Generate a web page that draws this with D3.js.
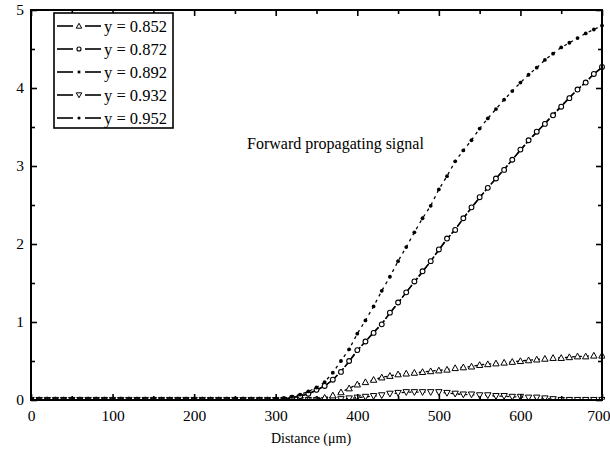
<!DOCTYPE html>
<html><head><meta charset="utf-8">
<script src="https://cdn.jsdelivr.net/npm/d3@7"></script>
<style>body{margin:0;background:#fff}svg{display:block}text{font-family:"Liberation Serif","Times New Roman",serif;fill:#000}</style>
</head><body><svg id="c" width="610" height="452"></svg>
<script>
const distance = d3.range(0, 701, 10);
const seriesNames = ["y = 0.852", "y = 0.872", "y = 0.892", "y = 0.932", "y = 0.952"];
const y0852 = [0,0,0,0,0,0,0,0,0,0, 0,0,0,0,0,0,0,0,0,0, 0,0,0,0,0,0,0,0,0,0, 0,0,0,0,0,0.01,0.03,0.06,0.10,0.15,
 0.20,0.23,0.26,0.29,0.31,0.33,0.34,0.35,0.36,0.37, 0.38,0.39,0.41,0.42,0.43,0.45,0.46,0.47,0.48,0.49,
 0.50,0.51,0.52,0.53,0.54,0.54,0.55,0.56,0.56,0.57, 0.57];
const y0872 = [0,0,0,0,0,0,0,0,0,0, 0,0,0,0,0,0,0,0,0,0, 0,0,0,0,0,0,0,0,0,0, 0,0.01,0.03,0.05,0.08,0.13,0.18,0.26,0.36,0.50,
 0.64,0.75,0.86,0.97,1.12,1.25,1.38,1.52,1.65,1.78, 1.93,2.07,2.18,2.33,2.47,2.60,2.72,2.84,2.95,3.08,
 3.21,3.33,3.44,3.54,3.65,3.76,3.87,3.98,4.07,4.18, 4.27];
const y0892 = [0,0,0,0,0,0,0,0,0,0, 0,0,0,0,0,0,0,0,0,0, 0,0,0,0,0,0,0,0,0,0, 0,0.01,0.03,0.05,0.08,0.12,0.18,0.26,0.37,0.49,
 0.63,0.75,0.87,0.98,1.11,1.24,1.38,1.51,1.64,1.78, 1.92,2.06,2.19,2.33,2.46,2.59,2.72,2.84,2.96,3.08,
 3.20,3.32,3.43,3.55,3.66,3.77,3.88,3.98,4.08,4.18, 4.26];
const y0932 = [0,0,0,0,0,0,0,0,0,0, 0,0,0,0,0,0,0,0,0,0, 0,0,0,0,0,0,0,0,0,0, 0,0,0,0,0,0,0,0,0.01,0.02,
 0.03,0.04,0.05,0.06,0.08,0.09,0.10,0.10,0.10,0.10, 0.10,0.09,0.08,0.07,0.07,0.06,0.06,0.05,0.05,0.04,
 0.04,0.03,0.03,0.02,0.01,0,0,0,0,0, 0];
const y0952 = [0,0,0,0,0,0,0,0,0,0, 0,0,0,0,0,0,0,0,0,0, 0,0,0,0,0,0,0,0,0,0, 0.01,0.02,0.04,0.07,0.11,0.16,0.23,0.35,0.50,0.65,
 0.85,1.02,1.20,1.40,1.58,1.78,1.96,2.15,2.33,2.49, 2.70,2.87,3.06,3.20,3.33,3.48,3.61,3.73,3.85,3.96,
 4.07,4.17,4.26,4.36,4.44,4.52,4.58,4.64,4.70,4.75, 4.80];
const xTicks = [0,100,200,300,400,500,600,700];
const yTicks = [0,1,2,3,4,5];
const annotation = "Forward propagating signal";
const xTitle = "Distance (\u03bcm)";

const seriesValues = [y0852, y0872, y0892, y0932, y0952];
const markers = ["triUp", "circleOpen", "square", "triDown", "dot"];

const svg = d3.select("#c");
const L = 31, R = 602, T = 10, B = 400;
const x = d3.scaleLinear().domain([0, 700]).range([L, R]);
const y = d3.scaleLinear().domain([0, 5]).range([B, T]);

svg.append("clipPath").attr("id","clip").append("rect")
  .attr("x", L).attr("y", T-3).attr("width", R-L+3).attr("height", B-T+3);
svg.append("clipPath").attr("id","lclip").append("rect")
  .attr("x", 54).attr("y", 13).attr("width", 119).attr("height", 115);

function drawMarker(g, type, cx, cy, scale=1) {
  if (type === "triUp") {
    const s = 3.2*scale;
    g.append("path").attr("d", `M${cx},${cy-s}L${cx+s},${cy+s*0.8}L${cx-s},${cy+s*0.8}Z`)
      .attr("fill","#fff").attr("stroke","#000").attr("stroke-width",1);
  } else if (type === "triDown") {
    const s = 3.2*scale;
    g.append("path").attr("d", `M${cx},${cy+s}L${cx+s},${cy-s*0.8}L${cx-s},${cy-s*0.8}Z`)
      .attr("fill","#fff").attr("stroke","#000").attr("stroke-width",1);
  } else if (type === "circleOpen") {
    g.append("circle").attr("cx",cx).attr("cy",cy).attr("r",2.4*scale)
      .attr("fill","#fff").attr("stroke","#000").attr("stroke-width",1.1);
  } else if (type === "square") {
    const s = 1.6*scale;
    g.append("rect").attr("x",cx-s).attr("y",cy-s).attr("width",2*s).attr("height",2*s).attr("fill","#000");
  } else {
    g.append("circle").attr("cx",cx).attr("cy",cy).attr("r",1.9*scale).attr("fill","#000");
  }
}

// series
const plot = svg.append("g").attr("clip-path","url(#clip)");
const line = d3.line().x(d => x(d[0])).y(d => y(d[1]));
const order = [3, 0, 2, 1, 4];
order.forEach(i => {
  const pts = distance.map((d, k) => [d, seriesValues[i][k]]);
  plot.append("path").attr("d", line(pts)).attr("fill","none").attr("stroke","#000")
    .attr("stroke-width", 1.3).attr("stroke-dasharray", i === 1 || i === 2 ? "7,2" : "3,4");
  const mg = plot.append("g");
  pts.forEach(p => drawMarker(mg, markers[i], x(p[0]), y(p[1])));
});

// axes frame
svg.append("rect").attr("x",L).attr("y",T).attr("width",R-L).attr("height",B-T)
  .attr("fill","none").attr("stroke","#000").attr("stroke-width",2);

const xminor = d3.range(50, 700, 100);
const yminor = d3.range(0.5, 5, 1);
// bottom axis ticks (inward) + labels
svg.append("g").attr("class","xb").attr("transform",`translate(0,${B})`)
  .call(d3.axisBottom(x).tickValues(xTicks).tickSize(-6).tickPadding(10).tickFormat(d3.format("d")));
svg.append("g").attr("transform",`translate(0,${B})`).call(d3.axisBottom(x).tickValues(xminor).tickSize(-4).tickFormat(""));
// top axis ticks
svg.append("g").attr("transform",`translate(0,${T})`).call(d3.axisTop(x).tickValues(xTicks).tickSize(-6).tickFormat(""));
svg.append("g").attr("transform",`translate(0,${T})`).call(d3.axisTop(x).tickValues(xminor).tickSize(-4).tickFormat(""));
// left axis
svg.append("g").attr("transform",`translate(${L},0)`)
  .call(d3.axisLeft(y).tickValues(yTicks).tickSize(-6).tickPadding(7).tickFormat(d3.format("d")));
svg.append("g").attr("transform",`translate(${L},0)`).call(d3.axisLeft(y).tickValues(yminor).tickSize(-4).tickFormat(""));
// right axis
svg.append("g").attr("transform",`translate(${R},0)`).call(d3.axisRight(y).tickValues(yTicks).tickSize(-6).tickFormat(""));
svg.append("g").attr("transform",`translate(${R},0)`).call(d3.axisRight(y).tickValues(yminor).tickSize(-4).tickFormat(""));

svg.selectAll(".domain").remove();
svg.selectAll(".tick line").attr("stroke","#000").attr("stroke-width",1.6);
svg.selectAll(".tick text").style("font-family",'"Liberation Serif","Times New Roman",serif').style("font-size","15.5px").attr("fill","#000");
// keep last x label inside the canvas
svg.selectAll(".xb .tick text").filter(d => d === 700).attr("text-anchor","end").attr("x", 8);

// x title
svg.append("text").attr("x", 311).attr("y", 443).attr("text-anchor","middle")
  .style("font-size","14px").text(xTitle);

// annotation
svg.append("text").attr("x", 247).attr("y", 149).style("font-size","16px").text(annotation);

// legend
const lg = svg.append("g");
lg.append("rect").attr("x",54).attr("y",13).attr("width",119).attr("height",115)
  .attr("fill","#fff").attr("stroke","#000").attr("stroke-width",1.6);
const lt = lg.append("g").attr("clip-path","url(#lclip)");
seriesNames.forEach((name, i) => {
  const cy = 26 + i*23;
  lg.append("line").attr("x1",57).attr("x2",73).attr("y1",cy).attr("y2",cy).attr("stroke","#000").attr("stroke-width",1.6);
  lg.append("line").attr("x1",85).attr("x2",101).attr("y1",cy).attr("y2",cy).attr("stroke","#000").attr("stroke-width",1.6);
  drawMarker(lg, markers[i], 79, cy, 0.85);
  lt.append("text").attr("x",104).attr("y",cy+5.5).style("font-size","16.5px").text(name);
});
</script></body></html>
